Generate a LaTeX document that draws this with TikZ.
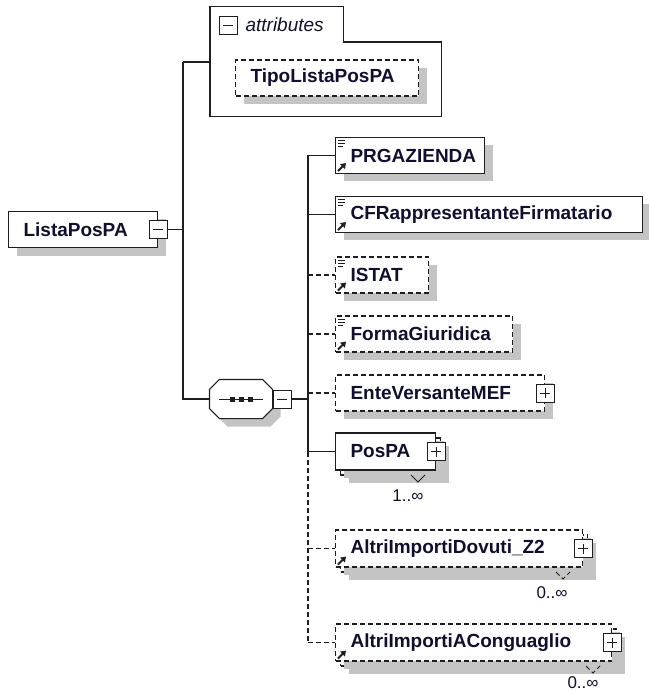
\documentclass[tikz,border=0pt]{standalone}
\usepackage{fontspec}
\setmainfont{Liberation Sans}
\usetikzlibrary{arrows.meta, shadows}
\definecolor{shadowgray}{HTML}{C4C4C4}
\definecolor{edge}{HTML}{1E1E1E}
\definecolor{ink}{HTML}{10102E}

\begin{document}
\begin{tikzpicture}[x=1pt, y=-1pt, >=Latex, line width=1.1pt,
  box/.style={draw=edge, fill=white, anchor=west, minimum height=36pt},
  shd/.style={drop shadow={shadow xshift=8pt, shadow yshift=-8pt, fill=shadowgray, opacity=1}},
  elem/.style={box, shd, align=left, inner xsep=15pt, inner ysep=0pt, text=ink,
    font=\bfseries\fontsize{19}{23}\selectfont},
  opt/.style={dash pattern=on 5pt off 3pt},
  back/.style={box, shd, inner sep=0pt},
  seqbox/.style={minimum width=62pt, minimum height=38pt, inner sep=0pt},
  minusbox/.style={draw=edge, fill=white, minimum size=18pt, inner sep=0pt, line width=1pt,
    path picture={\draw[edge, line width=1pt] ([xshift=4pt]path picture bounding box.west)
      -- ([xshift=-4pt]path picture bounding box.east);}},
  plusbox/.style={minusbox,
    path picture={\draw[edge, line width=1pt] ([xshift=4pt]path picture bounding box.west)
      -- ([xshift=-4pt]path picture bounding box.east)
      ([yshift=-4pt]path picture bounding box.north) -- ([yshift=4pt]path picture bounding box.south);}},
  mult/.style={inner sep=0pt, text=ink, font=\fontsize{17}{20}\selectfont},
  listmark/.pic={\draw[edge, line width=0.9pt] (0,0) -- (7,0) (0,3) -- (7,3) (0,6) -- (5,6);},
  refmark/.pic={\draw[edge, line width=2pt, -{Triangle[length=5pt, width=6.5pt]}] (0,0) -- (8,-8);}]

\useasboundingbox (0,0) rectangle (648,692);

% =================================================================================
% root element and its attributes
% =================================================================================
\node[elem, text width=119pt] (lista) at (8,229.5) {ListaPosPA};
\node[minusbox] (lmin) at (lista.east) {};

\node[minimum width=230pt, minimum height=73pt, anchor=north west, inner sep=0pt] (attr) at (210,42) {};
\node[minimum width=132pt, minimum height=34pt, anchor=south west, inner sep=0pt] (attrtab) at (attr.north west) {};
\draw[edge] (attr.south west) -- (attrtab.north west) -- (attrtab.north east) -- (attrtab.south east)
  -- (attr.north east) -- (attr.south east) -- cycle;
\node[minusbox] (amin) at (228,26) {};
\node[anchor=west, inner sep=0pt, text=ink, font=\itshape\fontsize{19}{23}\selectfont] (atitle) at (245,25) {attributes};
\node[elem, opt, text width=153pt] (tipo) at (235,78) {TipoListaPosPA};

\coordinate (j1) at (183,229.5);
\coordinate (attrin) at (210,62);
\draw[edge] (lmin.east) -- (j1);
\draw[edge] (attrin -| j1) -- (attrin);

% =================================================================================
% sequence
% =================================================================================
\node[seqbox] (seq) at (241,399) {};
\draw[edge, fill=white, shd] ([xshift=10pt]seq.north west) -- ([xshift=-10pt]seq.north east)
  -- ([yshift=-10pt]seq.north east) -- ([yshift=10pt]seq.south east)
  -- ([xshift=-10pt]seq.south east) -- ([xshift=10pt]seq.south west)
  -- ([yshift=10pt]seq.south west) -- ([yshift=-10pt]seq.north west) -- cycle;
\node[minusbox, anchor=west] (smin) at (seq.east) {};
\draw[edge, line width=0.9pt] ([xshift=-22pt]seq.center) -- ([xshift=22pt]seq.center);
\foreach \dx in {-9,0,9}
  \fill[edge] ([shift={(\dx-2.5,-2.5)}]seq.center) rectangle ([shift={(\dx+2.5,2.5)}]seq.center);
\draw[edge] (attrin -| j1) |- (seq.west);

\coordinate (j2) at (308,399);
\draw[edge] (smin.east) -- (j2);

% =================================================================================
% children
% =================================================================================
\node[elem, text width=119pt] (prg)   at (335,155.5) {PRGAZIENDA};
\node[elem, text width=277pt] (cfr)   at (335,214.5) {CFRappresentanteFirmatario};
\node[elem, opt, text width=63pt]  (ist)   at (335,275) {ISTAT};
\node[elem, opt, text width=147pt] (forma) at (335,334) {FormaGiuridica};
\node[elem, opt, text width=179pt] (ente)  at (335,393) {EnteVersanteMEF};
\node[plusbox] (eplus) at (ente.east) {};

\node[back, minimum width=100pt, minimum height=37pt] (posb) at (340,456.5) {};
\node[elem, text width=70pt, minimum height=37pt, drop shadow={opacity=0}] (pos) at (335,451.5) {PosPA};
\node[plusbox] (pplus) at (pos.east) {};
\draw[edge, line width=0.8pt] (411,475) -- (418,482) -- (425,475);
\node[mult] (posm) at (408,496) {1..∞};

\node[back, opt, minimum width=247pt, minimum height=37pt] (dovb) at (340,553.5) {};
\node[elem, opt, text width=217pt, minimum height=37pt, drop shadow={opacity=0}] (dov) at (335,548.5) {AltriImportiDovuti\_Z2};
\node[plusbox] (dplus) at (dov.east) {};
\draw[edge, line width=0.8pt, opt] (556,572) -- (563,579) -- (570,572);
\node[mult] (dovm) at (552,593) {0..∞};

\node[back, opt, minimum width=276pt, minimum height=37pt] (congb) at (340,647.5) {};
\node[elem, opt, text width=246pt, minimum height=37pt, drop shadow={opacity=0}] (cong) at (335,642.5) {AltriImportiAConguaglio};
\node[plusbox] (cplus) at (cong.east) {};
\draw[edge, line width=0.8pt, opt] (586,666) -- (593,673) -- (600,666);
\node[mult] (congm) at (583,683) {0..∞};

% list and reference marks
\pic at ([xshift=3pt, yshift=-4pt]prg.north west) {listmark};
\pic at ([xshift=3pt, yshift=-4pt]cfr.north west) {listmark};
\pic at ([xshift=3pt, yshift=-4pt]ist.north west) {listmark};
\pic at ([xshift=3pt, yshift=-4pt]forma.north west) {listmark};
\pic at ([xshift=3pt, yshift=3pt]prg.south west) {refmark};
\pic at ([xshift=3pt, yshift=3pt]cfr.south west) {refmark};
\pic at ([xshift=3pt, yshift=3pt]ist.south west) {refmark};
\pic at ([xshift=3pt, yshift=3pt]forma.south west) {refmark};
\pic at ([xshift=3pt, yshift=3pt]dov.south west) {refmark};
\pic at ([xshift=3pt, yshift=3pt]cong.south west) {refmark};

% connectors
\draw[edge] (prg.west -| j2) -- (pos.west -| j2);
\draw[edge, opt] (pos.west -| j2) -- (cong.west -| j2);
\draw[edge] (prg.west -| j2) -- (prg.west);
\draw[edge] (cfr.west -| j2) -- (cfr.west);
\draw[edge, opt] (ist.west -| j2) -- (ist.west);
\draw[edge, opt] (forma.west -| j2) -- (forma.west);
\draw[edge, opt] (ente.west -| j2) -- (ente.west);
\draw[edge] (pos.west -| j2) -- (pos.west);
\draw[edge, opt] (dov.west -| j2) -- (dov.west);
\draw[edge, opt] (cong.west -| j2) -- (cong.west);

\end{tikzpicture}
\end{document}
